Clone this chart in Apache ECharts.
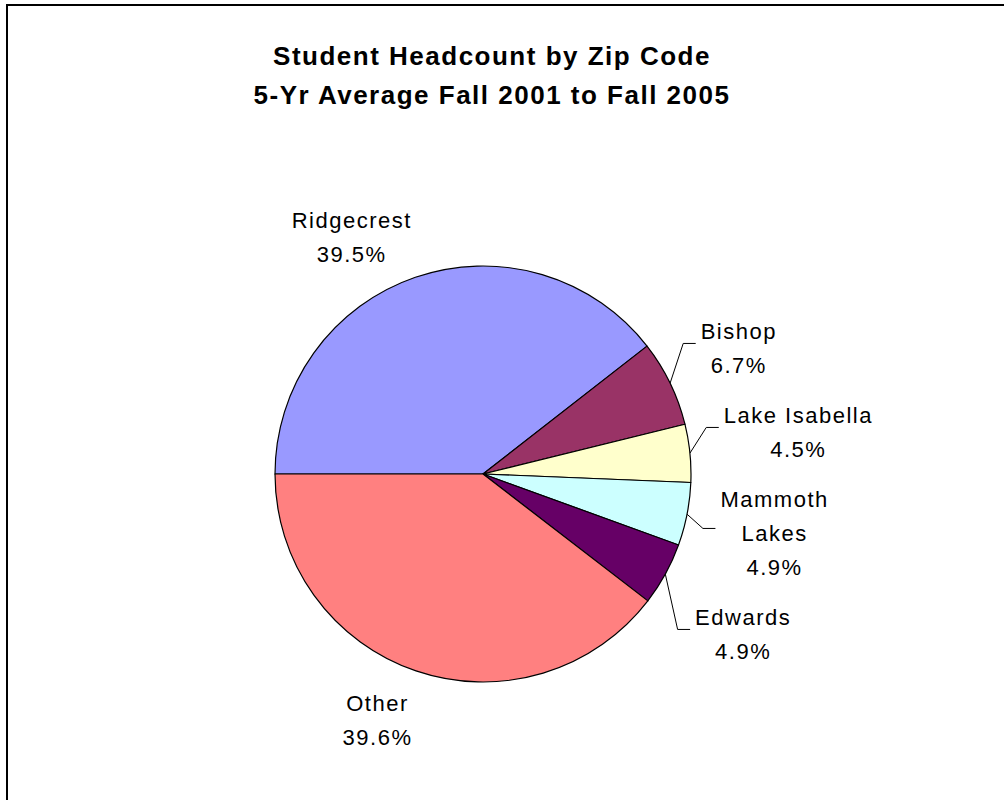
<!DOCTYPE html>
<html>
<head>
<meta charset="utf-8">
<script src="https://cdn.jsdelivr.net/npm/echarts@6/dist/echarts.min.js"></script>
<style>
  html, body { margin: 0; padding: 0; background: #ffffff; }
  #chart { width: 1004px; height: 800px; }
  /* tracked-out lettering for every text element */
  #chart text { letter-spacing: 1.5px; }
</style>
</head>
<body>
<div id="chart"></div>
<script>
// ---- data ----
const titleLines = ['Student Headcount by Zip Code', '5-Yr Average Fall 2001 to Fall 2005'];
const categories = ['Ridgecrest', 'Bishop', 'Lake Isabella', 'Mammoth Lakes', 'Edwards', 'Other'];
const shares = [39.5, 6.7, 4.5, 4.9, 4.9, 39.6];
const sliceColors = ['#9999FF', '#993366', '#FFFFCC', '#CCFFFF', '#660066', '#FF8080'];

// ---- layout constants ----
const CX = 483, CY = 474, R = 208;
const FONT = 22, LINE_H = 34, SPACING = 1.5, GAP = 16, WRAP_AT = 155;
const TEXT_NUDGE = 5; // optical centring of cap height within each line box
const FONT_FAMILY = '"Liberation Sans", Arial, sans-serif';

const measureCtx = document.createElement('canvas').getContext('2d');
measureCtx.font = FONT + 'px ' + FONT_FAMILY;
function textWidth(s) { return measureCtx.measureText(s).width + s.length * SPACING; }

function wrapName(name) {
  if (textWidth(name) <= WRAP_AT) return [name];
  const words = name.split(' ');
  const lines = [];
  let cur = '';
  words.forEach(w => {
    const trial = cur ? cur + ' ' + w : w;
    if (cur && textWidth(trial) > WRAP_AT) { lines.push(cur); cur = w; } else { cur = trial; }
  });
  if (cur) lines.push(cur);
  return lines;
}

// mid angle of each slice (degrees, counter-clockwise from 3 o'clock),
// slices start at 9 o'clock and run clockwise
const total = shares.reduce((a, b) => a + b, 0);
let running = 180;
const labels = shares.map((v, i) => {
  const span = v / total * 360;
  const mid = running - span / 2;
  running -= span;
  const lines = wrapName(categories[i]).concat([v.toFixed(1) + '%']);
  const w = Math.max.apply(null, lines.map(textWidth));
  const h = lines.length * LINE_H;
  return { index: i, mid, lines, w, h, leader: v < 10 };
});

// labels with a leader line: stacked to the right, overlaps spread around their mean
const rad = d => d * Math.PI / 180;
const leaders = labels.filter(l => l.leader);
leaders.forEach(l => { l.y0 = CY - (R + 30) * Math.sin(rad(l.mid)); });
leaders.sort((a, b) => a.y0 - b.y0);
function layoutGroup(g) {
  let off = 0;
  g.forEach((m, k) => { if (k > 0) off += (g[k - 1].h + m.h) / 2 + GAP; m.off = off; });
  const mean = g.reduce((s, m) => s + (m.y0 - m.off), 0) / g.length;
  g.forEach(m => { m.y = mean + m.off; });
}
let groups = leaders.map(l => [l]);
groups.forEach(layoutGroup);
let merged = true;
while (merged) {
  merged = false;
  for (let i = 0; i < groups.length - 1; i++) {
    const a = groups[i], b = groups[i + 1];
    const la = a[a.length - 1], fb = b[0];
    if (fb.y - la.y < (la.h + fb.h) / 2 + GAP) {
      groups[i] = a.concat(b);
      groups.splice(i + 1, 1);
      layoutGroup(groups[i]);
      merged = true;
      break;
    }
  }
}
leaders.forEach(l => {
  const c = Math.cos(rad(l.mid)), s = Math.sin(rad(l.mid));
  const left = CX + (R + 34) * c;
  l.x = left + l.w / 2;
  l.line = [[CX + R * c, CY - R * s], [left - 17.5, l.y], [left - 5, l.y]];
  l.y += TEXT_NUDGE;
});

// large slices: label sits just outside the rim, corner toward the slice
labels.filter(l => !l.leader).forEach(l => {
  const c = Math.cos(rad(l.mid)), s = Math.sin(rad(l.mid));
  const ax = CX + (R + 11) * c, ay = CY - (R + 11) * s;
  l.x = ax + Math.sign(c) * l.w / 2;
  l.y = ay - Math.sign(s) * l.h / 2 + TEXT_NUDGE;
});

const seriesData = categories.map((name, i) => ({
  name,
  value: shares[i],
  itemStyle: { color: sliceColors[i] },
  labelLine: { show: labels[i].leader }
}));

const chart = echarts.init(document.getElementById('chart'), null, { renderer: 'svg' });
chart.setOption({
  animation: false,
  backgroundColor: '#ffffff',
  title: {
    text: titleLines.join('\n'),
    left: 492,
    top: 36,
    padding: 0,
    textAlign: 'center',
    textStyle: {
      fontFamily: FONT_FAMILY,
      fontSize: 26,
      fontWeight: 'bold',
      lineHeight: 39,
      color: '#000000'
    }
  },
  graphic: [{
    type: 'rect',
    shape: { x: 7, y: 5, width: 1100, height: 1000 },
    style: { fill: 'none', stroke: '#000000', lineWidth: 2 },
    silent: true
  }],
  series: [{
    type: 'pie',
    center: [CX, CY],
    radius: R,
    startAngle: 180,
    clockwise: true,
    avoidLabelOverlap: false,
    emphasis: { disabled: true },
    itemStyle: { borderColor: '#000000', borderWidth: 1.2 },
    label: {
      show: true,
      position: 'outside',
      fontFamily: FONT_FAMILY,
      fontSize: FONT,
      lineHeight: LINE_H,
      color: '#000000',
      align: 'center',
      formatter: p => labels[p.dataIndex].lines.join('\n')
    },
    labelLine: {
      length: 10,
      length2: 10,
      lineStyle: { color: '#000000', width: 1 }
    },
    labelLayout: params => {
      const l = labels[params.dataIndex];
      const out = { x: l.x, y: l.y, align: 'center', verticalAlign: 'middle' };
      if (l.leader) out.labelLinePoints = l.line;
      return out;
    },
    data: seriesData
  }]
});
</script>
</body>
</html>
